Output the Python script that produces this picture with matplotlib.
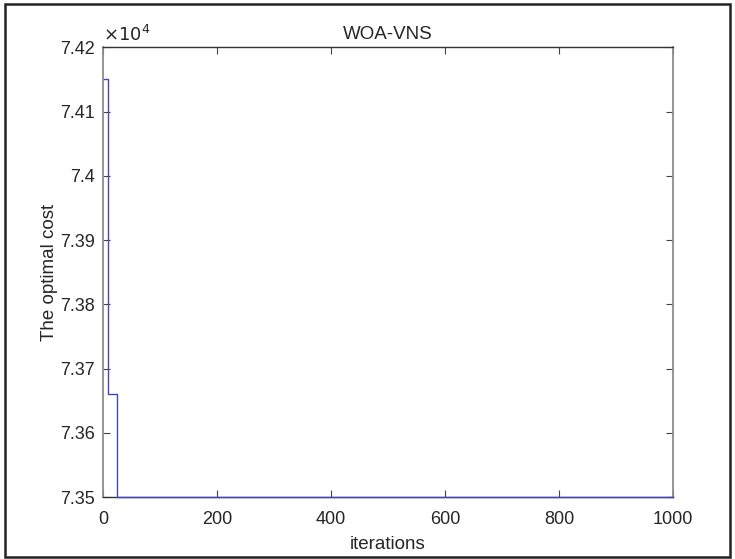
import matplotlib.pyplot as plt
from matplotlib.patches import Rectangle

# Кривая сходимости WOA-VNS
iterations = [1, 8, 25, 1000]
cost = [74150, 73660, 73500, 73500]

x_ticks = [0, 200, 400, 600, 800, 1000]
y_ticks = [7.35, 7.36, 7.37, 7.38, 7.39, 7.40, 7.41, 7.42]
y_labels = ['7.35', '7.36', '7.37', '7.38', '7.39', '7.4', '7.41', '7.42']

plt.rcParams['font.family'] = ['Liberation Sans', 'DejaVu Sans']
text_color = '#262626'

fig = plt.figure(figsize=(7.35, 5.59), dpi=100)
ax = fig.add_axes([0.1401, 0.1109, 0.9156 - 0.1401, 0.9154 - 0.1109])

ax.plot(iterations, [c / 1e4 for c in cost], drawstyle='steps-post',
        color='#4444c0', linewidth=1.0, clip_on=False, zorder=3)

ax.set_xlim(0, 1000)
ax.set_ylim(7.35, 7.42)
ax.set_xticks(x_ticks)
ax.set_yticks(y_ticks)
ax.set_yticklabels(y_labels)

ax.tick_params(direction='in', length=5, width=0.8, color='#444444',
               labelsize=13, labelcolor=text_color, top=True, right=True, pad=6)
ax.tick_params(axis='x', pad=10)
for side in ['left', 'right']:
    ax.spines[side].set_color('#8c8c8c')
    ax.spines[side].set_linewidth(1.3)
for side in ['top', 'bottom']:
    ax.spines[side].set_color('#333333')
    ax.spines[side].set_linewidth(1.0)

ax.text(0.0, 1.004, r'$\times 10^4$', transform=ax.transAxes,
        fontsize=13, ha='left', va='bottom', color=text_color)

ax.set_title('WOA-VNS', fontsize=13.5, pad=6, color=text_color)
ax.set_xlabel('iterations', fontsize=13.5, labelpad=6, color=text_color)
ax.set_ylabel('The optimal cost', fontsize=13.5, labelpad=1, color=text_color)

# рамка вокруг всей картинки
fig.patches.append(Rectangle((5 / 735, 2 / 559), 725 / 735, 553 / 559,
                             transform=fig.transFigure, fill=False,
                             edgecolor='#222222', linewidth=1.8))

fig.savefig('out.png', dpi=100)
